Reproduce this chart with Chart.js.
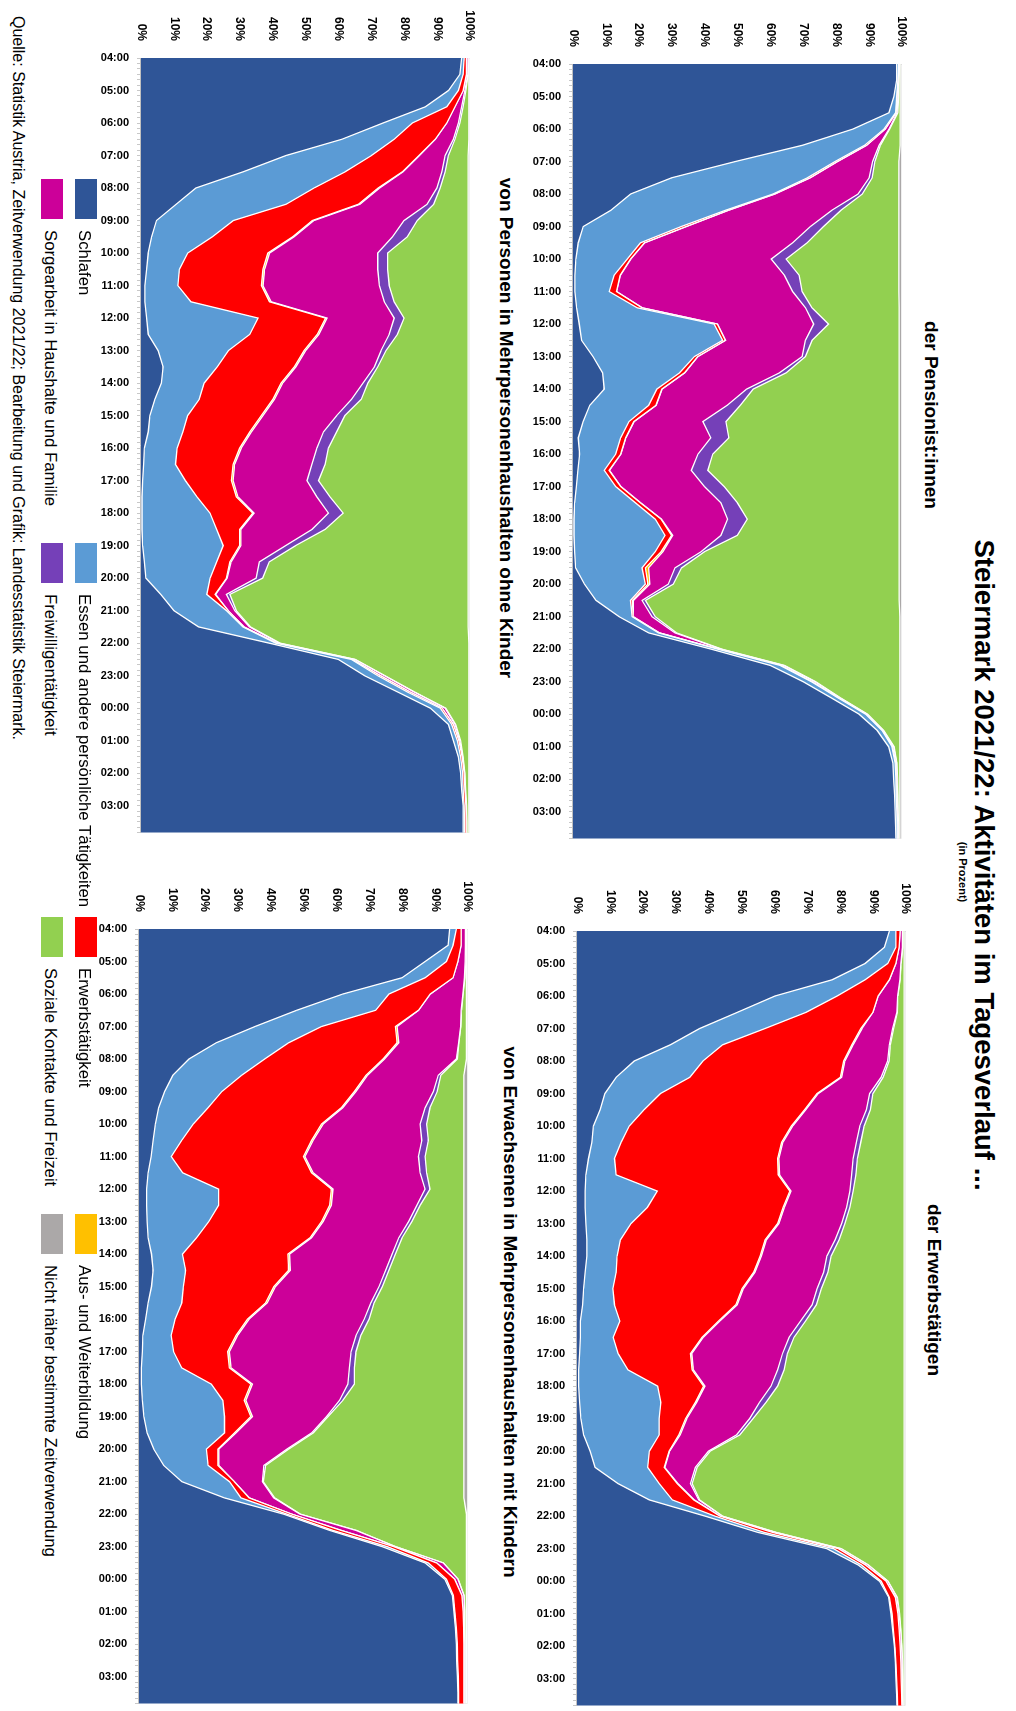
<!DOCTYPE html>
<html lang="de">
<head>
<meta charset="utf-8">
<title>Steiermark 2021/22: Aktivitäten im Tagesverlauf</title>
<script src="https://cdn.jsdelivr.net/npm/chart.js@4.4.1/dist/chart.umd.min.js"></script>
<style>
  html, body { margin: 0; padding: 0; background: #fff; }
  body { width: 1016px; height: 1711px; overflow: hidden; position: relative;
         font-family: "Liberation Sans", Arial, sans-serif; }
  /* the sheet is laid out in landscape and turned a quarter clockwise */
  #blatt { position: absolute; left: 0; top: 0; width: 1711px; height: 1016px;
           transform-origin: 0 0; transform: translateX(1016px) rotate(90deg);
           overflow: hidden; background: #fff; }
  .txt { position: absolute; white-space: nowrap; color: #000; }
  canvas { position: absolute; }
  .key { position: absolute; width: 40px; height: 22px; }
  .keytxt { position: absolute; font-size: 16.8px; line-height: 22px; white-space: nowrap; }
</style>
</head>
<body>
<div id="blatt">
  <div class="txt" style="left:365px;width:1000px;text-align:center;top:18px;font-size:27.5px;line-height:27.5px;font-weight:bold;">Steiermark 2021/22: Aktivitäten im Tagesverlauf ...</div>
  <div class="txt" style="left:772px;width:200px;text-align:center;top:47.5px;font-size:11px;line-height:11px;font-weight:bold;">(in Prozent)</div>

  <div class="txt" style="left:215px;width:400px;text-align:center;top:75px;font-size:19px;line-height:19px;font-weight:bold;">der Pensionist:innen</div>
  <div class="txt" style="left:1090px;width:400px;text-align:center;top:72px;font-size:19px;line-height:19px;font-weight:bold;">der Erwerbstätigen</div>
  <div class="txt" style="left:78px;width:700px;text-align:center;top:500px;font-size:19px;line-height:19px;font-weight:bold;">von Personen in Mehrpersonenhaushalten ohne Kinder</div>
  <div class="txt" style="left:962px;width:700px;text-align:center;top:496px;font-size:19px;line-height:19px;font-weight:bold;">von Erwachsenen in Mehrpersonenhaushalten mit Kindern</div>

  <canvas id="cPens" width="856" height="393" style="left:4px;top:98px;"></canvas>
  <canvas id="cErw" width="856" height="393" style="left:871px;top:94px;"></canvas>
  <canvas id="cOhne" width="856" height="393" style="left:-2px;top:530px;"></canvas>
  <canvas id="cMit" width="856" height="393" style="left:869px;top:532px;"></canvas>

  <div id="legende"></div>

  <div class="txt" style="left:16px;top:990px;font-size:16px;line-height:16px;">Quelle: Statistik Austria, Zeitverwendung 2021/22; Bearbeitung und Grafik: Landesstatistik Steiermark.</div>
</div>

<script>
// Zeitpunkte (Halbstundenwerte, letzter Wert 03:50)
const zeiten = ["04:00","04:30","05:00","05:30","06:00","06:30","07:00","07:30","08:00","08:30",
  "09:00","09:30","10:00","10:30","11:00","11:30","12:00","12:30","13:00","13:30",
  "14:00","14:30","15:00","15:30","16:00","16:30","17:00","17:30","18:00","18:30",
  "19:00","19:30","20:00","20:30","21:00","21:30","22:00","22:30","23:00","23:30",
  "00:00","00:30","01:00","01:30","02:00","02:30","03:00","03:30","03:50"];

// Achsenbeschriftung
const stunden = ["04:00","05:00","06:00","07:00","08:00","09:00","10:00","11:00","12:00","13:00",
  "14:00","15:00","16:00","17:00","18:00","19:00","20:00","21:00","22:00","23:00",
  "00:00","01:00","02:00","03:00"];

const aktivitaeten = ["Schlafen", "Essen und andere persönliche Tätigkeiten", "Erwerbstätigkeit",
  "Aus- und Weiterbildung", "Sorgearbeit in Haushalte und Familie", "Freiwilligentätigkeit",
  "Soziale Kontakte und Freizeit", "Nicht näher bestimmte Zeitverwendung"];

const farben = ["#2F5597", "#5B9BD5", "#FF0000", "#FFC000", "#CC0099", "#7540B8", "#92D050", "#ABA8A8"];

// --- der Pensionist:innen (in %)
const pensSchlafen = [98.4,98.4,97.6,96.1,85.2,69.8,49.4,30.0,17.5,11.5,3.1,1.6,0.9,0.6,0.6,1.1,1.9,2.6,6.1,9.0,9.5,5.1,3.1,1.6,2.0,1.5,1.0,0.5,0.3,0.3,0.5,0.8,3.5,7.0,14.0,23.0,42.0,60.0,70.0,78.6,87.0,92.5,96.0,97.3,97.5,97.8,98.0,98.1,98.2];
const pensEssen = [0.6,0.4,0.8,2.0,9.4,18.9,30.3,41.3,43.3,34.9,29.8,18.9,15.6,11.9,10.4,18.4,41.0,42.9,30.8,23.4,16.0,17.9,13.9,12.9,11.0,8.0,12.0,18.5,24.7,27.7,24.5,20.2,18.5,10.5,4.0,3.0,2.0,3.0,2.5,2.0,2.0,1.5,1.0,0.7,0.7,0.5,0.5,0.5,0.4];
const pensErwerb = [0.1,0.1,0.2,0.2,0.4,0.6,0.7,0.8,0.5,0.8,1.5,1.2,1.0,1.8,2.2,1.5,1.0,0.8,1.0,1.5,1.5,2.2,1.5,1.5,1.5,1.5,1.5,1.5,1.8,2.0,1.8,1.0,0.8,0.6,0.3,0.3,0.3,0.3,0.2,0.2,0.1,0.1,0.1,0.1,0.1,0.1,0.1,0.1,0.1];
const pensBildung = [0,0,0,0,0,0,0.1,0.1,0.1,0.1,0.1,0.1,0.1,0.1,0.1,0.1,0.1,0.1,0.1,0.1,0.1,0.1,0.1,0.1,0.1,0.1,0.1,0.1,0.1,0.3,0.6,1.0,0.6,0.3,0,0,0,0,0,0,0,0,0,0,0,0,0,0,0];
const pensSorge = [0.1,0.1,0.2,0.3,1.1,3.8,10.6,17.9,25.3,31.4,37.7,45.0,42.7,49.9,53.5,49.6,29.2,24.3,31.7,28.8,25.7,21.6,20.9,25.8,23.4,24.9,25.4,24.4,20.1,14.7,11.6,8.0,5.6,2.6,5.7,4.7,0.7,0.7,0.8,0.4,0.3,0.2,0.4,0.3,0.3,0.3,0.2,0.2,0.2];
const pensFreiwillig = [0.1,0.1,0.2,0.2,0.2,0.4,0.7,0.9,1.3,2.8,4.0,4.4,4.5,4.5,2.9,2.0,4.5,2.0,1.0,2.0,2.0,4.0,7.0,5.5,4.5,5.0,6.0,5.0,6.0,5.0,1.0,2.0,1.5,1.0,1.0,0.5,0.3,0.3,0.3,0.2,0.2,0.2,0.2,0.1,0.1,0.1,0.1,0.1,0.1];
const pensSozial = [0.2,0.4,0.5,0.7,3.2,6.0,7.3,8.1,11.1,17.6,22.9,27.9,34.3,30.3,29.4,26.5,21.5,26.5,28.5,34.4,44.4,48.3,52.7,51.8,56.7,58.2,53.2,49.2,46.2,49.2,59.2,66.2,68.7,77.2,74.4,67.9,54.1,35.1,25.6,18.0,9.8,4.9,1.7,0.9,0.7,0.6,0.5,0.4,0.4];
const pensRest = [0.5,0.5,0.5,0.5,0.5,0.5,0.9,0.9,0.9,0.9,0.9,0.9,0.9,0.9,0.9,0.8,0.8,0.8,0.8,0.8,0.8,0.8,0.8,0.8,0.8,0.8,0.8,0.8,0.8,0.8,0.8,0.8,0.8,0.8,0.6,0.6,0.6,0.6,0.6,0.6,0.6,0.6,0.6,0.6,0.6,0.6,0.6,0.6,0.6];

// --- der Erwerbstätigen
const erwSchlafen = [95.0,93.5,87.6,77.6,60.2,48.8,37.3,28.4,17.4,11.9,8.5,7.0,5.0,4.5,3.5,2.7,2.5,2.5,2.7,3.0,3.0,2.5,2.0,1.7,1.0,1.0,0.8,0.5,0.5,0.8,1.2,2.0,4.0,5.5,12.5,22.0,39.0,55.0,76.0,85.5,92.0,94.8,95.5,96.0,96.5,96.8,97.0,97.2,97.3];
const erwEssen = [2.0,3.5,6.9,10.0,18.9,20.9,19.9,15.9,20.9,22.4,16.9,13.4,10.9,8.9,7.9,9.2,21.9,18.9,13.7,10.2,9.2,9.4,8.9,9.7,12.0,10.0,11.7,15.0,24.0,24.7,23.8,23.0,18.0,16.0,12.5,7.0,3.0,2.0,2.0,1.0,0.5,0.2,0.3,0.2,0.2,0.2,0.2,0.2,0.2];
const erwErwerb = [1.3,1.0,2.5,7.4,12.5,20.3,29.1,39.3,42.8,45.8,47.6,48.8,49.3,48.8,49.6,49.3,40.3,41.3,44.6,44.0,43.5,41.8,39.3,36.9,30.0,27.0,22.0,19.5,14.0,10.5,8.0,6.0,6.0,5.0,5.5,6.5,1.5,2.5,1.5,1.2,1.5,1.8,1.8,1.8,1.6,1.5,1.4,1.3,1.3];
const erwBildung = [0,0,0,0,0,0,0.4,0.4,0.4,0.4,0.4,0.4,0.4,0.4,0.4,0.4,0.4,0.4,0.4,0.4,0.4,0.4,0.4,0.4,0.4,0.4,0.4,0.4,0.4,0.4,0.4,0.4,0.2,0.2,0.2,0.2,0,0,0,0,0,0,0,0,0,0,0,0,0];
const erwSorge = [0.7,1.0,1.5,3.2,5.9,7.3,9.3,11.0,13.0,12.0,15.6,18.4,20.4,22.4,22.6,21.9,17.9,18.9,19.1,20.9,19.9,20.9,22.4,22.8,24.6,26.1,27.6,25.6,20.1,19.1,19.1,17.1,11.8,9.3,3.8,1.3,0.7,1.0,0.8,0.8,0.5,0.5,0.4,0.4,0.4,0.4,0.4,0.3,0.3];
const erwFreiwillig = [0.1,0.1,0.1,0.1,0.1,0.1,0.3,0.3,0.4,0.6,1.0,1.2,1.3,1.3,1.3,1.3,1.0,1.0,1.0,1.2,1.3,1.3,1.3,1.3,1.5,1.5,1.5,2.0,2.0,2.0,1.0,1.0,0.5,0.5,0.5,0.3,0.1,0.1,0.1,0.1,0.1,0.1,0.1,0.1,0.1,0.1,0.1,0.1,0.1];
const erwSozial = [0.4,0.4,0.9,1.2,1.9,2.1,3.2,4.2,4.6,6.4,9.5,10.3,12.2,13.2,14.2,14.7,15.5,16.5,18.0,19.8,22.2,23.2,25.2,26.7,30.0,33.5,35.5,36.5,38.5,42.0,46.0,50.0,59.0,63.0,64.5,62.2,55.2,38.9,19.1,10.9,4.9,2.1,1.4,1.0,0.7,0.5,0.4,0.4,0.3];
const erwRest = [0.5,0.5,0.5,0.5,0.5,0.5,0.5,0.5,0.5,0.5,0.5,0.5,0.5,0.5,0.5,0.5,0.5,0.5,0.5,0.5,0.5,0.5,0.5,0.5,0.5,0.5,0.5,0.5,0.5,0.5,0.5,0.5,0.5,0.5,0.5,0.5,0.5,0.5,0.5,0.5,0.5,0.5,0.5,0.5,0.5,0.5,0.5,0.5,0.5];

// --- Personen in Mehrpersonenhaushalten ohne Kinder
const ohneSchlafen = [97.5,97.0,93.5,86.5,73.6,61.1,44.1,31.1,16.7,10.7,4.7,3.2,2.2,1.7,1.2,1.2,1.7,2.2,5.2,6.7,6.2,4.2,2.7,2.2,1.0,0.8,0.5,0.3,0.3,0.3,0.5,1.0,1.5,6.0,10.0,17.5,39.0,60.0,68.0,78.0,88.0,93.5,95.0,96.5,97.2,97.5,98.0,98.0,98.0];
const ohneEssen = [0.8,1.0,3.0,6.5,8.9,15.9,26.0,31.0,35.9,33.4,23.4,18.5,12.0,10.0,10.0,14.0,33.9,30.9,21.4,16.5,13.0,13.5,11.5,10.5,10.0,9.7,13.0,16.7,20.7,22.7,24.5,22.0,19.5,14.0,16.0,13.5,2.0,4.0,4.0,3.0,3.0,1.0,1.2,0.7,0.6,0.5,0.3,0.4,0.4];
const ohneErwerb = [0.7,1.0,1.5,2.5,10.5,12.5,14.4,17.4,19.5,22.0,24.0,24.4,24.4,25.4,25.4,23.9,20.5,20.5,23.0,23.4,23.4,22.4,22.4,20.4,19.0,17.5,14.0,12.0,13.0,7.0,5.0,4.0,5.0,2.5,0.5,0.3,0.3,0.3,0.8,0.8,0.6,0.5,0.5,0.5,0.5,0.5,0.5,0.5,0.5];
const ohneBildung = [0,0,0,0,0,0,0.2,0.2,0.5,0.5,0.5,0.5,0.5,0.5,0.5,0.5,0.5,0.5,0.5,0.5,0.5,0.5,0.5,0.5,0.5,0.5,0.5,0.5,0.4,0.4,0.4,0.4,0.2,0.2,0,0,0,0,0,0,0,0,0,0,0,0,0,0,0];
const ohneSorge = [0.5,0.4,0.5,2.0,3.5,5.5,7.8,11.8,17.4,20.4,27.4,29.9,32.9,34.4,35.4,34.4,20.4,21.4,22.9,23.9,24.4,23.4,22.4,21.9,23.0,23.5,22.5,24.0,22.6,21.6,13.6,8.6,8.8,3.3,2.0,1.7,0.7,0.7,1.2,1.2,0.9,0.5,0.3,0.1,0.1,0.1,0.1,0.1,0.1];
const ohneFreiwillig = [0.1,0.1,0.3,0.5,0.5,0.5,1.0,1.0,1.0,2.0,4.0,4.5,3.0,3.0,3.0,3.0,3.0,2.5,1.5,1.0,1.5,3.0,2.5,4.0,3.5,4.0,3.5,4.0,4.5,4.0,3.0,3.0,2.0,1.0,0.5,0.3,0.3,0.2,0.2,0.2,0.2,0.2,0.2,0.2,0.1,0.1,0.1,0.1,0.1];
const ohneSozial = [0.1,0.2,0.9,1.7,2.7,4.2,6.0,7.0,8.5,10.5,15.5,18.5,24.5,24.5,24.0,22.5,19.5,21.5,25.0,27.5,30.5,32.5,37.5,40.0,42.5,43.5,45.5,42.0,38.0,43.5,52.5,60.5,62.5,72.5,70.5,66.2,57.4,34.5,25.5,16.5,7.0,4.0,2.5,1.7,1.2,1.0,0.7,0.6,0.6];
const ohneRest = [0.3,0.3,0.3,0.3,0.3,0.3,0.5,0.5,0.5,0.5,0.5,0.5,0.5,0.5,0.5,0.5,0.5,0.5,0.5,0.5,0.5,0.5,0.5,0.5,0.5,0.5,0.5,0.5,0.5,0.5,0.5,0.5,0.5,0.5,0.5,0.5,0.3,0.3,0.3,0.3,0.3,0.3,0.3,0.3,0.3,0.3,0.3,0.3,0.3];

// --- Erwachsene in Mehrpersonenhaushalten mit Kindern
const mitSchlafen = [94.5,94.0,87.0,80.0,62.0,48.0,35.3,23.5,15.2,10.3,7.8,6.0,5.0,4.3,3.7,2.8,2.3,2.3,2.5,2.8,3.8,4.3,3.8,2.8,2.0,1.2,1.0,0.7,0.7,1.0,1.5,2.5,4.5,7.5,13.0,26.0,44.0,58.0,74.0,87.0,93.0,95.3,95.8,96.2,96.5,96.6,96.8,97.0,97.0];
const mitEssen = [2.0,1.5,6.5,7.0,14.0,24.0,20.2,22.0,23.0,20.9,17.4,15.0,11.5,8.7,6.1,10.5,21.9,21.9,18.7,14.7,9.4,9.9,9.7,10.2,9.0,8.6,9.5,12.3,21.3,24.5,24.5,23.5,16.0,13.5,14.5,5.0,1.0,1.0,1.5,1.0,0.5,0.3,0.3,0.3,0.3,0.3,0.3,0.2,0.2];
const mitErwerb = [1.5,2.5,3.5,8.5,12.6,13.0,22.5,33.0,36.0,37.8,40.3,40.5,39.0,39.5,40.2,39.2,34.3,33.8,34.3,34.5,32.1,31.3,27.5,25.5,22.0,19.7,16.5,14.5,12.0,6.5,8.0,3.0,3.5,3.0,1.5,2.5,1.5,2.5,2.0,2.5,2.5,2.6,2.5,2.2,2.0,1.9,1.7,1.6,1.6];
const mitBildung = [0,0,0,0,0,0,0.5,0.5,0.5,0.5,0.5,0.5,0.5,0.5,0.5,0.5,0.5,0.5,0.5,0.5,0.5,0.5,0.5,0.5,0.5,0.5,0.5,0.5,0.5,0.5,0.5,0.5,0.3,0.3,0,0,0,0,0,0,0,0,0,0,0,0,0,0,0];
const mitSorge = [1.3,1.3,2.2,3.5,9.9,13.0,19.3,18.2,21.8,21.5,23.5,25.0,29.5,33.0,34.5,32.5,28.0,26.0,26.0,26.5,31.2,29.0,31.5,31.5,35.0,36.0,37.0,36.0,29.0,28.5,22.5,23.0,20.7,13.7,8.5,7.5,2.5,4.5,0.5,2.0,1.0,0.6,0.4,0.3,0.3,0.3,0.3,0.3,0.3];
const mitFreiwillig = [0.1,0.1,0.1,0.1,0.1,0.1,0.1,0.1,0.3,0.8,1.2,1.5,2.0,2.0,2.0,2.0,1.5,1.0,1.0,1.0,1.0,1.0,1.0,1.0,1.5,1.5,1.5,1.5,2.0,1.0,0.5,0.5,0.5,0.5,0.3,0.3,0.1,0.1,0.1,0.1,0.1,0.1,0.1,0.1,0.1,0.1,0.1,0.1,0.1];
const mitSozial = [0.2,0.2,0.3,0.5,1.0,1.5,1.7,2.3,2.8,7.0,8.1,10.3,11.3,10.8,11.8,11.3,10.3,13.3,15.8,18.8,20.8,22.8,24.8,27.3,28.8,31.3,32.8,33.3,33.3,36.8,41.3,45.8,53.3,60.3,61.0,57.5,50.5,33.5,21.5,7.0,2.5,0.7,0.5,0.5,0.4,0.4,0.4,0.4,0.4];
const mitRest = [0.4,0.4,0.4,0.4,0.4,0.4,0.4,0.4,0.4,1.2,1.2,1.2,1.2,1.2,1.2,1.2,1.2,1.2,1.2,1.2,1.2,1.2,1.2,1.2,1.2,1.2,1.2,1.2,1.2,1.2,1.2,1.2,1.2,1.2,1.2,1.2,0.4,0.4,0.4,0.4,0.4,0.4,0.4,0.4,0.4,0.4,0.4,0.4,0.4];

// Minuten seit 04:00 für die lineare Zeitachse
const minuten = zeiten.map(function (t) {
  const [h, m] = t.split(":").map(Number);
  return (h * 60 + m - 240 + 1440) % 1440;
});

Chart.defaults.font.family = "'Liberation Sans', Arial, sans-serif";
Chart.defaults.color = "#000";

function datensaetze(reihen) {
  return reihen.map(function (werte, i) {
    return {
      label: aktivitaeten[i],
      data: werte.map(function (v, j) { return { x: minuten[j], y: v }; }),
      backgroundColor: farben[i],
      borderColor: "#ffffff",
      borderWidth: 1.3,
      fill: i === 0 ? "origin" : "-1",
      pointRadius: 0,
      tension: 0,
    };
  });
}

function diagramm(id, reihen) {
  return new Chart(document.getElementById(id), {
    type: "line",
    data: { datasets: datensaetze(reihen) },
    options: {
      responsive: false,
      animation: false,
      layout: { padding: { top: 10, right: 10, left: 0, bottom: 0 } },
      plugins: { legend: { display: false }, tooltip: { enabled: false } },
      scales: {
        x: {
          type: "linear",
          min: 0,
          max: 1430,
          afterFit: function (s) { s.height = 48; },
          ticks: {
            stepSize: 10,
            autoSkip: false,
            minRotation: 90,
            maxRotation: 90,
            padding: 8,
            font: { size: 11, weight: "bold" },
            callback: function (v) { return v % 60 === 0 ? stunden[v / 60] : ""; },
          },
          grid: { drawOnChartArea: false, tickLength: 4, color: "#c8c8c8" },
          border: { color: "#c0c0c0" },
        },
        y: {
          stacked: true,
          min: 0,
          max: 100,
          afterFit: function (s) { s.width = 60; },
          ticks: {
            stepSize: 10,
            padding: 9,
            font: { size: 12, weight: "bold" },
            callback: function (v) { return v + "%"; },
          },
          grid: { display: false },
          border: { display: true, color: "#c0c0c0" },
        },
      },
    },
  });
}

diagramm("cPens", [pensSchlafen, pensEssen, pensErwerb, pensBildung, pensSorge, pensFreiwillig, pensSozial, pensRest]);
diagramm("cErw", [erwSchlafen, erwEssen, erwErwerb, erwBildung, erwSorge, erwFreiwillig, erwSozial, erwRest]);
diagramm("cOhne", [ohneSchlafen, ohneEssen, ohneErwerb, ohneBildung, ohneSorge, ohneFreiwillig, ohneSozial, ohneRest]);
diagramm("cMit", [mitSchlafen, mitEssen, mitErwerb, mitBildung, mitSorge, mitFreiwillig, mitSozial, mitRest]);

// Legende: zwei Zeilen zu je vier Einträgen
const legende = document.getElementById("legende");
const spaltenX = [179, 543, 917, 1214];
const zeilenY = [919, 953];
aktivitaeten.forEach(function (name, n) {
  const x = spaltenX[n % 4];
  const y = zeilenY[Math.floor(n / 4)];
  const box = document.createElement("div");
  box.className = "key";
  box.style.left = x + "px";
  box.style.top = y + "px";
  box.style.background = farben[n];
  legende.appendChild(box);
  const t = document.createElement("div");
  t.className = "keytxt";
  t.style.left = (x + 51) + "px";
  t.style.top = (y + 2) + "px";
  t.textContent = name;
  legende.appendChild(t);
});
</script>
</body>
</html>
